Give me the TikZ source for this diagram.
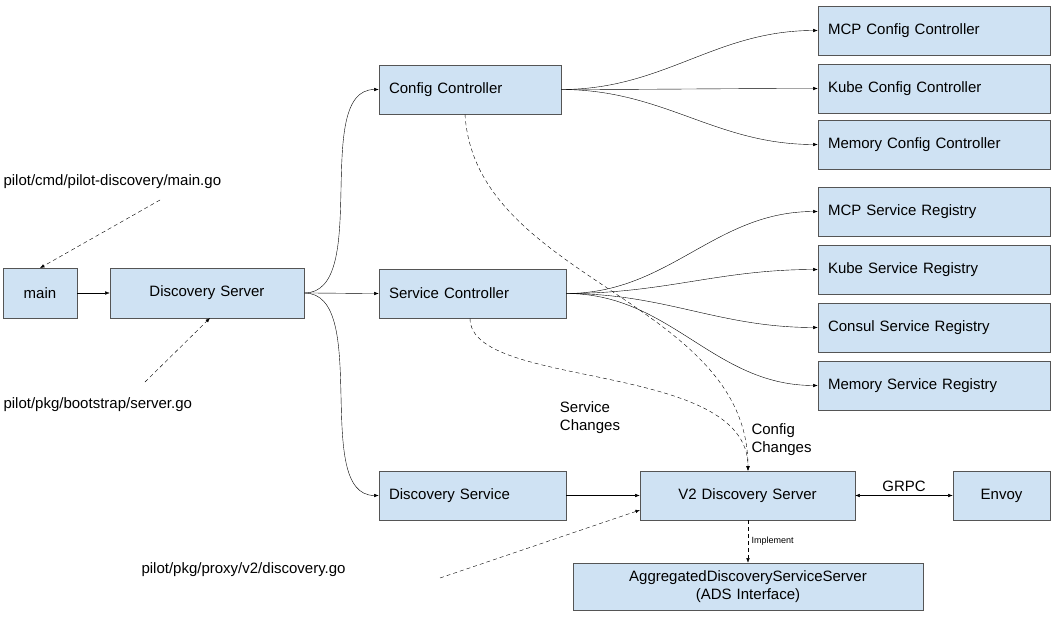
\documentclass[tikz,border=0pt]{standalone}
\usepackage{fontspec}
\setmainfont{Liberation Sans}
\usetikzlibrary{arrows, arrows.meta}
\definecolor{boxfill}{HTML}{CFE2F3}
\definecolor{boxline}{HTML}{555555}
\tikzset{headarrow/.style = {-{Latex[length=.45em, width=.35em]}},
         dsh/.style = {dash pattern=on 4pt off 3pt},
         blk/.style = {draw=boxline, fill=boxfill, line width=.6pt,
                       inner sep=0pt,
                       font=\fontsize{15}{18}\selectfont},
         note/.style = {font=\fontsize{15}{18}\selectfont}}
\newcommand{\blkat}[7][left]{%
    \pgfmathsetmacro{\BlkW}{#5-#3}%
    \pgfmathsetmacro{\BlkH}{#6-#4}%
    \pgfmathsetmacro{\BlkT}{#5-#3-20}%
    \node[blk, align=#1, minimum width=\BlkW pt, minimum height=\BlkH pt,
          text width=\BlkT pt] (#2) at ({(#3+#5)/2},{(#4+#6)/2}) {#7};}

\begin{document}
\begin{tikzpicture}[x=1pt, y=-1pt]
    \useasboundingbox (0,0) rectangle (1055,618);

    \blkat[center]{main}{3}{268}{77}{318}{main}
    \blkat[center]{dserver}{110}{268}{304}{318}{Discovery Server}
    \blkat{cfgctl}{379}{65}{561}{114}{Config Controller}
    \blkat{svcctl}{379}{269}{566}{318}{Service Controller}
    \blkat{dservice}{379}{471}{566}{520}{Discovery Service}
    \blkat[center]{vtwo}{640}{471}{855}{520}{V2 Discovery Server}
    \blkat[center]{envoy}{953}{471}{1050}{520}{Envoy}
    \blkat[center]{ads}{573}{563}{923}{610}{AggregatedDiscoveryServiceServer\\(ADS Interface)}

    \blkat{mcpcfg}{818}{6}{1050}{55}{MCP Config Controller}
    \blkat{kubecfg}{818}{64}{1050}{113}{Kube Config Controller}
    \blkat{memcfg}{818}{120}{1050}{169}{Memory Config Controller}
    \blkat{mcpsvc}{818}{187}{1050}{236}{MCP Service Registry}
    \blkat{kubesvc}{818}{245}{1050}{294}{Kube Service Registry}
    \blkat{consulsvc}{818}{303}{1050}{352}{Consul Service Registry}
    \blkat{memsvc}{818}{361}{1050}{410}{Memory Service Registry}

    % source files
    \node[note, anchor=west] (maingo) at (0,182) {pilot/cmd/pilot-discovery/main.go};
    \node[note, anchor=west] (servergo) at (0,405) {pilot/pkg/bootstrap/server.go};
    \node[note, anchor=west] (discgo) at (138,570) {pilot/pkg/proxy/v2/discovery.go};
    \coordinate (maingoend) at (160,200);
    \coordinate (servergoend) at (145,382);
    \coordinate (discgoend) at (440,578);

    \draw[headarrow, dsh] (maingoend) -- (40,268);
    \draw[headarrow, dsh] (servergoend) -- (210,318);
    \draw[headarrow, dsh] (discgoend) -- (640,510);

    \draw[headarrow] (main) -- (dserver);
    \foreach \Target in {cfgctl, svcctl, dservice}
        \draw[headarrow] (dserver.east) to[out=0, in=180, looseness=.8] (\Target.west);
    \foreach \Target in {mcpcfg, kubecfg, memcfg}
        \draw[headarrow] (cfgctl.east) to[out=0, in=180] (\Target.west);
    \foreach \Target in {mcpsvc, kubesvc, consulsvc, memsvc}
        \draw[headarrow] (svcctl.east) to[out=0, in=180] (\Target.west);

    \draw[headarrow] (dservice) -- (vtwo);
    \draw[{Latex[length=.45em, width=.35em]}-{Latex[length=.45em, width=.35em]}]
        (vtwo) -- node[note, above] {GRPC} (envoy);
    \draw[headarrow, dsh] (vtwo.south -| 748,0) -- node[right, font=\small] {Implement} (ads.north -| 748,0);

    \draw[headarrow, dsh] (cfgctl.south -| 465,0) .. controls (475,280) and (748,300) .. (vtwo.north -| 748,0);
    \draw[headarrow, dsh] (svcctl.south -| 470,0) .. controls (470,390) and (748,360) .. (vtwo.north -| 748,0);
    \node[note, align=left] (svcchg) at (590,418) {Service\\Changes};
    \node[note, align=left, anchor=west] (cfgchg) at (748,440) {Config\\Changes};
\end{tikzpicture}
\end{document}
